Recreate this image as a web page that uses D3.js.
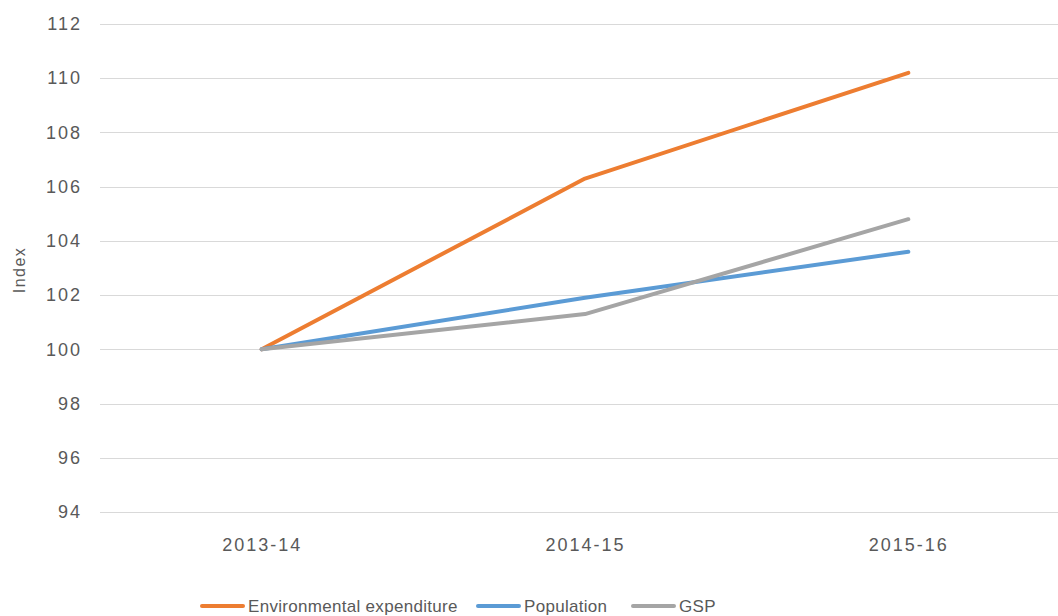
<!DOCTYPE html>
<html>
<head>
<meta charset="utf-8">
<script src="https://cdn.jsdelivr.net/npm/d3@7"></script>
<style>
  html, body { margin: 0; padding: 0; background: #ffffff; }
  svg { display: block; }
  text { font-family: "Liberation Sans", Arial, sans-serif; fill: #595959; }
</style>
</head>
<body>
<svg id="chart" width="1058" height="616"></svg>
<script>
// Index values, base year 2013-14 = 100
const years = ["2013-14", "2014-15", "2015-16"];
const environmental = [100, 106.3, 110.2];
const population = [100, 101.9, 103.6];
const gsp = [100, 101.3, 104.8];
const yTicks = [94, 96, 98, 100, 102, 104, 106, 108, 110, 112];

const series = [
  { name: "Environmental expenditure", values: environmental, color: "#ED7D31" },
  { name: "Population", values: population, color: "#5B9BD5" },
  { name: "GSP", values: gsp, color: "#A5A5A5" }
];

const svg = d3.select("#chart");

const x = d3.scalePoint().domain(years).range([100, 1070]).padding(0.5);
const y = d3.scaleLinear().domain([94, 112]).range([512, 24]);

// Horizontal gridlines
svg.append("g")
  .selectAll("line")
  .data(yTicks)
  .join("line")
  .attr("x1", 100).attr("x2", 1070)
  .attr("y1", d => Math.round(y(d)) + 0.5)
  .attr("y2", d => Math.round(y(d)) + 0.5)
  .attr("stroke", "#d9d9d9")
  .attr("stroke-width", 1);

const tickStyle = sel => sel
  .style("font-family", "'Liberation Sans', Arial, sans-serif")
  .style("font-size", "18px")
  .style("letter-spacing", "2px")
  .style("fill", "#595959");

// Y axis labels
const yAxis = svg.append("g")
  .attr("transform", "translate(100,0)")
  .call(d3.axisLeft(y).tickValues(yTicks).tickSize(0).tickPadding(18));
yAxis.select(".domain").remove();
yAxis.selectAll("text").call(tickStyle);

// X axis labels
const xAxis = svg.append("g")
  .attr("transform", "translate(0,512)")
  .call(d3.axisBottom(x).tickSize(0).tickPadding(26));
xAxis.select(".domain").remove();
xAxis.selectAll("text").call(tickStyle);

// Axis title
svg.append("text")
  .attr("transform", "translate(25,270) rotate(-90)")
  .attr("text-anchor", "middle")
  .style("font-size", "16px")
  .style("letter-spacing", "1.5px")
  .text("Index");

// Lines
const line = d3.line()
  .x((d, i) => x(years[i]))
  .y(d => y(d));

svg.append("g")
  .selectAll("path")
  .data(series)
  .join("path")
  .attr("d", d => line(d.values))
  .attr("fill", "none")
  .attr("stroke", d => d.color)
  .attr("stroke-width", 4)
  .attr("stroke-linecap", "round")
  .attr("stroke-linejoin", "round");

// Legend
const legendX = [202, 478, 633];
const legend = svg.append("g")
  .selectAll("g")
  .data(series)
  .join("g")
  .attr("transform", (d, i) => `translate(${legendX[i]},606)`);
legend.append("line")
  .attr("x1", 0).attr("x2", 41)
  .attr("y1", 0).attr("y2", 0)
  .attr("stroke", d => d.color)
  .attr("stroke-width", 4)
  .attr("stroke-linecap", "round");
legend.append("text")
  .attr("x", 46)
  .attr("y", 6)
  .style("font-size", "17px")
  .style("letter-spacing", "0.3px")
  .text(d => d.name);
</script>
</body>
</html>
